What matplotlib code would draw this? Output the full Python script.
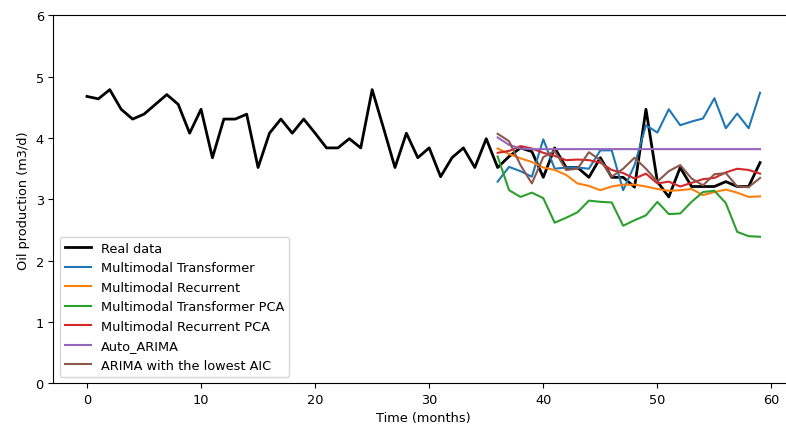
import numpy as np
import matplotlib
matplotlib.use('Agg')
import matplotlib.pyplot as plt

# real production, months 0..59
real_data = [4.68, 4.64, 4.79, 4.47, 4.31, 4.39, 4.55, 4.71, 4.55, 4.08,
             4.47, 3.68, 4.31, 4.31, 4.39, 3.52, 4.08, 4.31, 4.08, 4.31,
             4.08, 3.84, 3.84, 3.99, 3.84, 4.79, 4.16, 3.52, 4.08, 3.68,
             3.84, 3.37, 3.68, 3.84, 3.52, 3.99, 3.52, 3.70, 3.84, 3.78,
             3.36, 3.84, 3.52, 3.52, 3.36, 3.68, 3.36, 3.36, 3.20, 4.47,
             3.29, 3.04, 3.52, 3.21, 3.21, 3.21, 3.29, 3.21, 3.21, 3.60]

# forecasts, months 36..59
mm_transformer = [3.29, 3.53, 3.46, 3.37, 3.98, 3.50, 3.52, 3.52, 3.50, 3.80,
                  3.80, 3.15, 3.56, 4.21, 4.09, 4.47, 4.21, 4.27, 4.32, 4.65,
                  4.16, 4.40, 4.16, 4.74]
mm_recurrent = [3.83, 3.74, 3.67, 3.61, 3.52, 3.48, 3.40, 3.26, 3.22, 3.15,
                3.21, 3.24, 3.24, 3.21, 3.17, 3.14, 3.15, 3.17, 3.07, 3.12,
                3.16, 3.11, 3.04, 3.05]
mm_transformer_pca = [3.70, 3.15, 3.04, 3.11, 3.02, 2.62, 2.70, 2.79, 2.98, 2.96,
                      2.95, 2.57, 2.66, 2.74, 2.96, 2.76, 2.77, 2.96, 3.12, 3.14,
                      2.94, 2.47, 2.40, 2.39]
mm_recurrent_pca = [3.76, 3.79, 3.87, 3.83, 3.76, 3.71, 3.64, 3.65, 3.64, 3.60,
                    3.48, 3.43, 3.34, 3.42, 3.26, 3.29, 3.21, 3.27, 3.33, 3.35,
                    3.44, 3.50, 3.48, 3.42]
auto_arima = [4.01, 3.89, 3.83, 3.82, 3.82, 3.82, 3.82, 3.82, 3.82, 3.82,
              3.82, 3.82, 3.82, 3.82, 3.82, 3.82, 3.82, 3.82, 3.82, 3.82,
              3.82, 3.82, 3.82, 3.82]
arima_aic = [4.07, 3.95, 3.56, 3.26, 3.69, 3.79, 3.48, 3.50, 3.77, 3.64,
             3.37, 3.50, 3.68, 3.50, 3.29, 3.46, 3.56, 3.34, 3.23, 3.41,
             3.43, 3.21, 3.20, 3.35]

t_real = np.arange(len(real_data))
t_fc = np.arange(36, 36 + len(mm_transformer))

# reference looks like a slightly downscaled render
plt.rcParams['font.size'] = 9.3
plt.rcParams['xtick.major.pad'] = 3.3
plt.rcParams['ytick.major.pad'] = 3.3

fig = plt.figure(figsize=(7.86, 4.27), dpi=100)
# the original was cropped on the right, so the axes run past the figure edge
ax = fig.add_axes([0.0678, 0.1, 0.942, 0.8614])

ax.plot(t_real, real_data, color='black', lw=2, label='Real data')
ax.plot(t_fc, mm_transformer, label='Multimodal Transformer')
ax.plot(t_fc, mm_recurrent, label='Multimodal Recurrent')
ax.plot(t_fc, mm_transformer_pca, label='Multimodal Transformer PCA')
ax.plot(t_fc, mm_recurrent_pca, label='Multimodal Recurrent PCA')
ax.plot(t_fc, auto_arima, label='Auto_ARIMA')
ax.plot(t_fc, arima_aic, label='ARIMA with the lowest AIC')

ax.set_ylim(0, 6)
ax.set_xlim(-2.95, 61.95)
ax.set_xlabel('Time (months)')
ax.set_ylabel('Oil production (m3/d)')
ax.legend(loc='lower left')

fig.savefig('out.png', dpi=100)
